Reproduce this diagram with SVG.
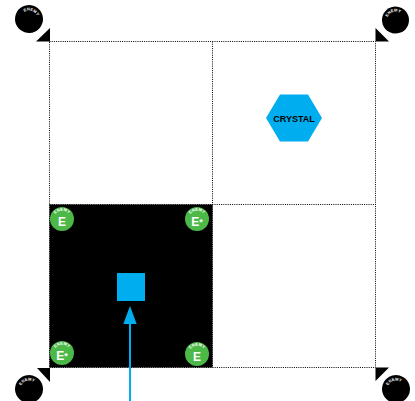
<svg xmlns="http://www.w3.org/2000/svg" width="415" height="401" viewBox="0 0 415 401">
<style>
.grid{stroke:#000;stroke-width:1;stroke-dasharray:1,1.2;fill:none}
.tri{fill:#000}
.bc{fill:#000}
.gc{fill:#4cb848}
.lbl{font-family:"Liberation Sans",Arial,sans-serif;font-weight:bold;fill:#fff}
.tiny{font-family:"Liberation Sans",Arial,sans-serif;font-weight:bold;fill:#fff;font-size:4px;letter-spacing:0.2px}
</style>
<defs>
<path id="arcBlack" d="M-8.5,0 A8.5,8.5 0 0 1 8.5,0"/>
<path id="arcGreen" d="M-8.3,0 A8.3,8.3 0 0 1 8.3,0"/>
</defs>
<rect x="49.5" y="204.5" width="163" height="163" fill="#000"/>
<g id="grid">
<rect class="grid" x="49.5" y="41.5" width="326" height="326"/>
<line class="grid" x1="212.5" y1="41.5" x2="212.5" y2="367.5"/>
<line class="grid" x1="49.5" y1="204.5" x2="375.5" y2="204.5"/>
</g>
<g id="corner-markers">
<polygon class="tri" points="50,28 36,41.5 50,41.5"/>
<polygon class="tri" points="375.5,28 375.5,41.5 389,41.5"/>
<polygon class="tri" points="37,368 50,368 50,382"/>
<polygon class="tri" points="375.5,367.5 389,367.5 375.5,381"/>
</g>
<g id="enemy-tl" transform="translate(29,19) rotate(18)">
<circle class="bc" r="14"/>
<text class="tiny"><textPath href="#arcBlack" startOffset="50%" text-anchor="middle">ENEMY</textPath></text>
</g>
<g id="enemy-tr" transform="translate(395.5,20) rotate(-18)">
<circle class="bc" r="13.5"/>
<text class="tiny"><textPath href="#arcBlack" startOffset="50%" text-anchor="middle">ENEMY</textPath></text>
</g>
<g id="enemy-bl" transform="translate(29,389) rotate(-15)">
<circle class="bc" r="14"/>
<text class="tiny"><textPath href="#arcBlack" startOffset="50%" text-anchor="middle">ENEMY</textPath></text>
</g>
<g id="enemy-br" transform="translate(396,389) rotate(-15)">
<circle class="bc" r="14"/>
<text class="tiny"><textPath href="#arcBlack" startOffset="50%" text-anchor="middle">ENEMY</textPath></text>
</g>
<g id="e1" transform="translate(62,219)">
<circle class="gc" r="12"/>
<text class="tiny"><textPath href="#arcGreen" startOffset="50%" text-anchor="middle">ENEMY</textPath></text>
<text class="lbl" x="0" y="7" font-size="12" text-anchor="middle">E</text>
</g>
<g id="e2" transform="translate(197,219)">
<circle class="gc" r="12"/>
<text class="tiny"><textPath href="#arcGreen" startOffset="50%" text-anchor="middle">ENEMY</textPath></text>
<text class="lbl" x="0" y="7" font-size="12" text-anchor="middle">E<tspan font-size="9" dy="-1">*</tspan></text>
</g>
<g id="e3" transform="translate(62,353)">
<circle class="gc" r="12"/>
<text class="tiny"><textPath href="#arcGreen" startOffset="50%" text-anchor="middle">ENEMY</textPath></text>
<text class="lbl" x="0" y="7" font-size="12" text-anchor="middle">E<tspan font-size="9" dy="-1">*</tspan></text>
</g>
<g id="e4" transform="translate(197,354)">
<circle class="gc" r="12"/>
<text class="tiny"><textPath href="#arcGreen" startOffset="50%" text-anchor="middle">ENEMY</textPath></text>
<text class="lbl" x="0" y="7" font-size="12" text-anchor="middle">E</text>
</g>
<g id="crystal">
<polygon points="266,118 280,94.5 308,94.5 322,118 308,141.5 280,141.5" fill="#00aeef"/>
<text x="294" y="121.5" font-family="Liberation Sans,Arial,sans-serif" font-weight="bold" font-size="9" fill="#000" text-anchor="middle">CRYSTAL</text>
</g>
<g id="player">
<rect x="117" y="273" width="28" height="28" fill="#00aeef"/>
</g>
<g id="connectors">
<line x1="130" y1="401" x2="130" y2="322" stroke="#00aeef" stroke-width="2"/>
<polygon points="130,306 136.7,324 123.3,324" fill="#00aeef"/>
</g>
</svg>
